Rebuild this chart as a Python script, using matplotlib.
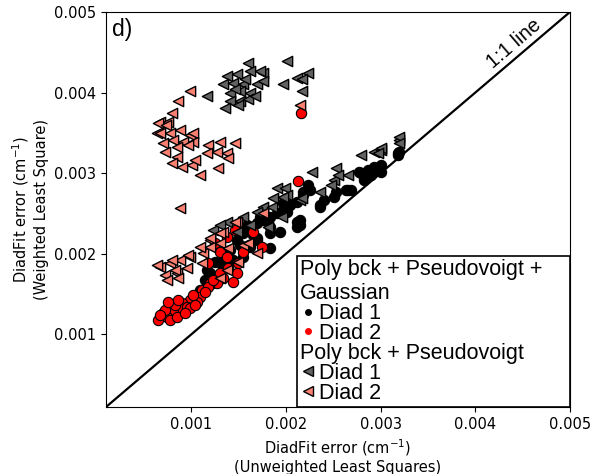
import numpy as np
import matplotlib
matplotlib.use("Agg")
import matplotlib.pyplot as plt
from matplotlib.lines import Line2D

# values in units of 0.001 cm^-1
# Poly bck + Pseudovoigt + Gaussian, Diad 1
g1_x = [1.201, 1.381, 1.339, 1.413, 1.487, 1.550, 1.624, 1.698, 1.762, 1.836, 1.910, 1.836, 1.942,
        1.836, 1.698, 1.624, 1.550, 1.444, 1.339, 1.974, 2.048, 2.122, 2.185, 2.259, 2.228, 2.122,
        2.153, 2.365, 2.397, 2.524, 2.630, 2.788, 2.820, 2.894, 2.968, 3.180, 1.233, 1.307, 1.169,
        2.767, 2.841, 2.651, 2.503, 2.365, 2.185, 1.974, 2.016, 1.730, 1.698, 2.862, 2.926, 3.000,
        3.000, 3.190, 3.180, 2.683, 1.095, 1.148, 1.254, 1.519, 1.593, 1.656, 2.122, 2.153, 1.836]
g1_y = [1.765, 1.889, 1.963, 2.049, 2.173, 2.259, 2.296, 2.383, 2.420, 2.457, 2.506, 2.259, 2.272,
        2.074, 2.198, 2.086, 1.963, 1.926, 1.840, 2.543, 2.605, 2.642, 2.728, 2.790, 2.852, 2.395,
        2.358, 2.605, 2.667, 2.765, 2.790, 3.000, 2.914, 2.975, 3.037, 3.247, 1.642, 1.716, 1.802,
        3.012, 2.951, 2.790, 2.704, 2.580, 2.765, 2.630, 2.519, 2.457, 2.173, 3.037, 3.074, 3.099,
        3.012, 3.259, 3.222, 2.790, 1.556, 1.679, 1.901, 2.111, 2.358, 2.235, 2.333, 2.420, 2.333]

# Poly bck + Pseudovoigt + Gaussian, Diad 2
g2_x = [2.164, 2.132, 1.466, 1.656, 1.381, 1.751, 1.254, 1.307, 1.180, 1.381, 1.497, 1.487, 1.339,
        1.275, 1.201, 1.116, 1.095, 0.989, 1.063, 0.905, 0.884, 0.958, 0.778, 0.810, 0.704, 0.746,
        0.651, 0.778, 0.852, 0.989, 1.180, 1.307, 1.550, 1.444, 0.725, 0.831, 0.937, 0.672, 1.021,
        1.148, 1.233, 1.392, 1.042, 0.862, 0.757]
g2_y = [3.741, 2.901, 2.296, 2.272, 2.210, 2.086, 2.136, 2.025, 1.889, 1.963, 1.889, 1.765, 1.704,
        1.642, 1.642, 1.556, 1.469, 1.432, 1.407, 1.395, 1.333, 1.346, 1.346, 1.284, 1.272, 1.222,
        1.185, 1.185, 1.222, 1.333, 1.593, 1.765, 2.025, 1.654, 1.309, 1.370, 1.272, 1.247, 1.494,
        1.531, 1.679, 1.827, 1.370, 1.432, 1.407]

# Poly bck + Pseudovoigt, Diad 1
p1_x = [1.603, 2.016, 1.381, 1.487, 1.624, 1.762, 1.339, 1.444, 1.550, 1.698, 1.413, 1.519, 1.624,
        1.413, 1.519, 1.603, 1.360, 1.169, 1.974, 2.122, 2.228, 2.175, 2.175, 1.730, 1.762, 1.466,
        1.571, 1.677, 1.497,
        2.280, 2.524, 2.651, 2.503, 2.788, 2.926, 3.000, 3.190, 3.000, 3.190, 3.190, 1.910, 1.995,
        1.868, 2.016, 1.762, 1.857, 2.153, 2.365, 2.471, 1.963, 2.545, 2.968, 1.974, 2.175, 1.698,
        1.550, 1.815, 1.381, 1.233, 1.307, 1.624, 1.487]
p1_y = [4.370, 4.395, 4.210, 4.235, 4.272, 4.247, 4.111, 4.123, 4.111, 4.111, 4.000, 4.025, 4.000,
        3.901, 3.901, 3.926, 3.815, 3.963, 4.111, 4.185, 4.247, 4.173, 4.025, 4.272, 4.148, 4.049,
        4.173, 3.963, 3.840,
        3.012, 3.062, 2.975, 2.914, 3.222, 3.259, 3.284, 3.407, 3.309, 3.444, 3.370, 2.815, 2.815,
        2.691, 2.728, 2.580, 2.580, 2.667, 2.765, 2.852, 2.457, 2.975, 3.247, 2.704, 2.691, 2.519,
        2.457, 2.333, 2.395, 2.296, 2.358, 2.358, 2.272]

# Poly bck + Pseudovoigt, Diad 2
p2_x = [0.989, 0.862, 0.799, 0.672, 0.757, 0.651, 0.735, 0.640, 0.778, 0.884, 0.989, 1.021, 0.704,
        0.810, 0.915, 1.021, 0.725, 0.852, 0.968, 1.180, 1.307, 1.466, 1.169, 1.275, 1.381, 1.392,
        0.852, 0.799, 0.905, 1.011, 1.042, 1.095, 1.286, 0.884, 2.153, 0.672,
        1.339, 1.487, 1.201, 0.672, 0.778, 0.884, 0.989, 1.127, 0.725, 0.852, 0.958, 1.095, 1.201,
        1.307, 1.698, 1.550, 1.762, 0.799, 0.968, 0.831, 0.746, 0.862, 1.116, 1.201, 1.307, 1.603,
        1.392, 1.466, 1.381, 1.497, 1.307, 0.640]
p2_y = [4.025, 3.901, 3.753, 3.630, 3.630, 3.617, 3.593, 3.494, 3.494, 3.531, 3.469, 3.494, 3.370,
        3.407, 3.383, 3.383, 3.259, 3.321, 3.346, 3.346, 3.383, 3.370, 3.247, 3.259, 3.247, 3.185,
        3.198, 3.123, 3.074, 3.099, 3.160, 2.975, 3.062, 2.568, 3.840, 3.494,
        2.272, 2.395, 2.173, 1.840, 1.889, 1.926, 1.963, 2.012, 1.741, 1.765, 1.827, 2.086, 2.086,
        2.136, 2.012, 2.111, 2.506, 1.926, 1.988, 1.802, 1.679, 1.704, 1.889, 2.198, 2.259, 2.136,
        2.074, 2.395, 1.802, 1.901, 1.704, 1.864]

sc = 1e-3
arial = 'Liberation Sans'

fig = plt.figure(figsize=(5.94, 4.74), dpi=100)
ax = fig.add_axes([0.1785, 0.1414, 0.781, 0.8333])

ax.plot([0, 0.005], [0, 0.005], '-k', lw=1.6, zorder=1)

ax.scatter(np.array(g1_x) * sc, np.array(g1_y) * sc, s=55, marker='o', fc='k', ec='k', lw=0.8, zorder=2)
ax.scatter(np.array(g2_x) * sc, np.array(g2_y) * sc, s=55, marker='o', fc='red', ec='k', lw=0.8, zorder=3)
ax.scatter(np.array(p1_x) * sc, np.array(p1_y) * sc, s=55, marker='<', fc='#626262', ec='k', lw=1, zorder=4)
ax.scatter(np.array(p2_x) * sc, np.array(p2_y) * sc, s=55, marker='<', fc='salmon', ec='k', lw=1, zorder=4)

ax.set_xlim(0.0001, 0.005)
ax.set_ylim(0.0001, 0.005)
ticks = [0.001, 0.002, 0.003, 0.004, 0.005]
ax.set_xticks(ticks)
ax.set_yticks(ticks)
ax.set_xticklabels(['0.001', '0.002', '0.003', '0.004', '0.005'], fontsize=10.5)
ax.set_yticklabels(['0.001', '0.002', '0.003', '0.004', '0.005'], fontsize=10.5)

ax.set_xlabel('DiadFit error (cm$^{-1}$)\n(Unweighted Least Squares)', fontsize=10.5)
ax.set_ylabel('DiadFit error (cm$^{-1}$)\n(Weighted Least Square)', fontsize=10.5)

ax.text(0.012, 0.985, 'd)', transform=ax.transAxes, va='top', ha='left', fontsize=16.5, family=arial)
ax.text(0.00447, 0.00452, '1:1 line', rotation=40.6, rotation_mode='anchor',
        ha='center', va='bottom', fontsize=14.5, family=arial)

blank = Line2D([], [], ls='none', marker=None)
handles = [blank,
           Line2D([], [], ls='none', marker='o', mfc='k', mec='none', ms=5),
           Line2D([], [], ls='none', marker='o', mfc='red', mec='none', ms=5),
           blank,
           Line2D([], [], ls='none', marker='<', mfc='#626262', mec='k', ms=7.5),
           Line2D([], [], ls='none', marker='<', mfc='salmon', mec='k', ms=7.5)]
labels = ['Poly bck + Pseudovoigt +    \nGaussian', 'Diad 1', 'Diad 2',
          'Poly bck + Pseudovoigt', 'Diad 1', 'Diad 2']
leg = ax.legend(handles, labels, loc='lower right', borderaxespad=0, fancybox=False,
                framealpha=1, edgecolor='k', handlelength=0.7, handletextpad=0.15,
                labelspacing=-0.05, borderpad=0.15, prop={'family': arial, 'size': 15.5})
leg.get_frame().set_linewidth(1.2)

# header rows: drop the empty handle so text starts at the left edge
rows = leg._legend_handle_box.get_children()[0].get_children()
for i in (0, 3):
    rows[i].get_children()[0].width = 0
    rows[i].sep = 0

fig.savefig('out.png', dpi=100)
